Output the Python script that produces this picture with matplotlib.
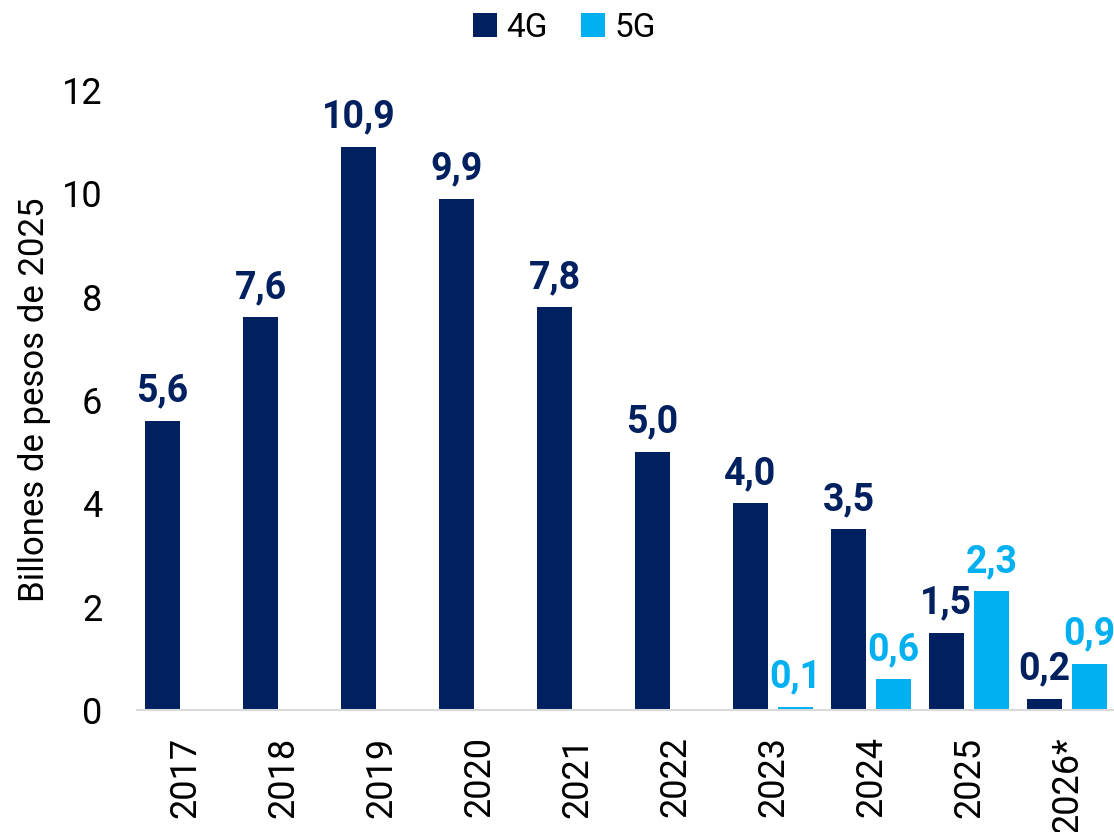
import matplotlib.pyplot as plt
import numpy as np

plt.rcParams['font.family'] = ['Roboto', 'DejaVu Sans']

years = ['2017', '2018', '2019', '2020', '2021', '2022', '2023', '2024', '2025', '2026*']
g4 = [5.6, 7.6, 10.9, 9.9, 7.8, 5.0, 4.0, 3.5, 1.5, 0.22]
g5 = [np.nan, np.nan, np.nan, np.nan, np.nan, np.nan, 0.06, 0.6, 2.3, 0.9]

c4 = '#002060'
c5 = '#00B0F0'

fig = plt.figure(figsize=(11.14, 8.32), dpi=100)
ax = fig.add_axes([0.123, 0.1466, 0.877, 0.7452])

x = np.arange(len(years))
w = 0.36
off = 0.23

b4 = ax.bar(x - off, g4, w, color=c4, label='4G')
b5 = ax.bar(x + off, g5, w, color=c5, label='5G')

def fmt(v):
    return f'{v:.1f}'.replace('.', ',')

# etiquetas de valor sobre cada barra
for xi, v in zip(x - off, g4):
    ax.annotate(fmt(v), (xi, v), xytext=(0, 8), textcoords='offset points',
                ha='center', va='bottom', fontsize=27, fontweight='bold', color=c4)
for xi, v in zip(x + off, g5):
    if np.isnan(v):
        continue
    ax.annotate(fmt(v), (xi, v), xytext=(0, 8), textcoords='offset points',
                ha='center', va='bottom', fontsize=27, fontweight='bold', color=c5)

ax.set_xlim(-0.49, 9.48)
ax.set_ylim(0, 12)
ax.set_yticks(range(0, 13, 2))
ax.set_xticks(x)
ax.set_xticklabels(years, rotation=90, fontsize=26)
ax.tick_params(axis='y', labelsize=26, length=0, pad=25)
ax.tick_params(axis='x', length=0, pad=19)
ax.set_ylabel('Billones de pesos de 2025', fontsize=25, labelpad=8)

for s in ['top', 'right', 'left']:
    ax.spines[s].set_visible(False)
ax.spines['bottom'].set_color('#D9D9D9')
ax.spines['bottom'].set_linewidth(1.5)

fig.legend(handles=[b4, b5], loc='upper center', bbox_to_anchor=(0.507, 1.022), ncol=2,
           frameon=False, fontsize=24, handlelength=0.7, handleheight=0.7,
           handletextpad=0.3, columnspacing=1.0)

fig.savefig('out.png', dpi=100)
